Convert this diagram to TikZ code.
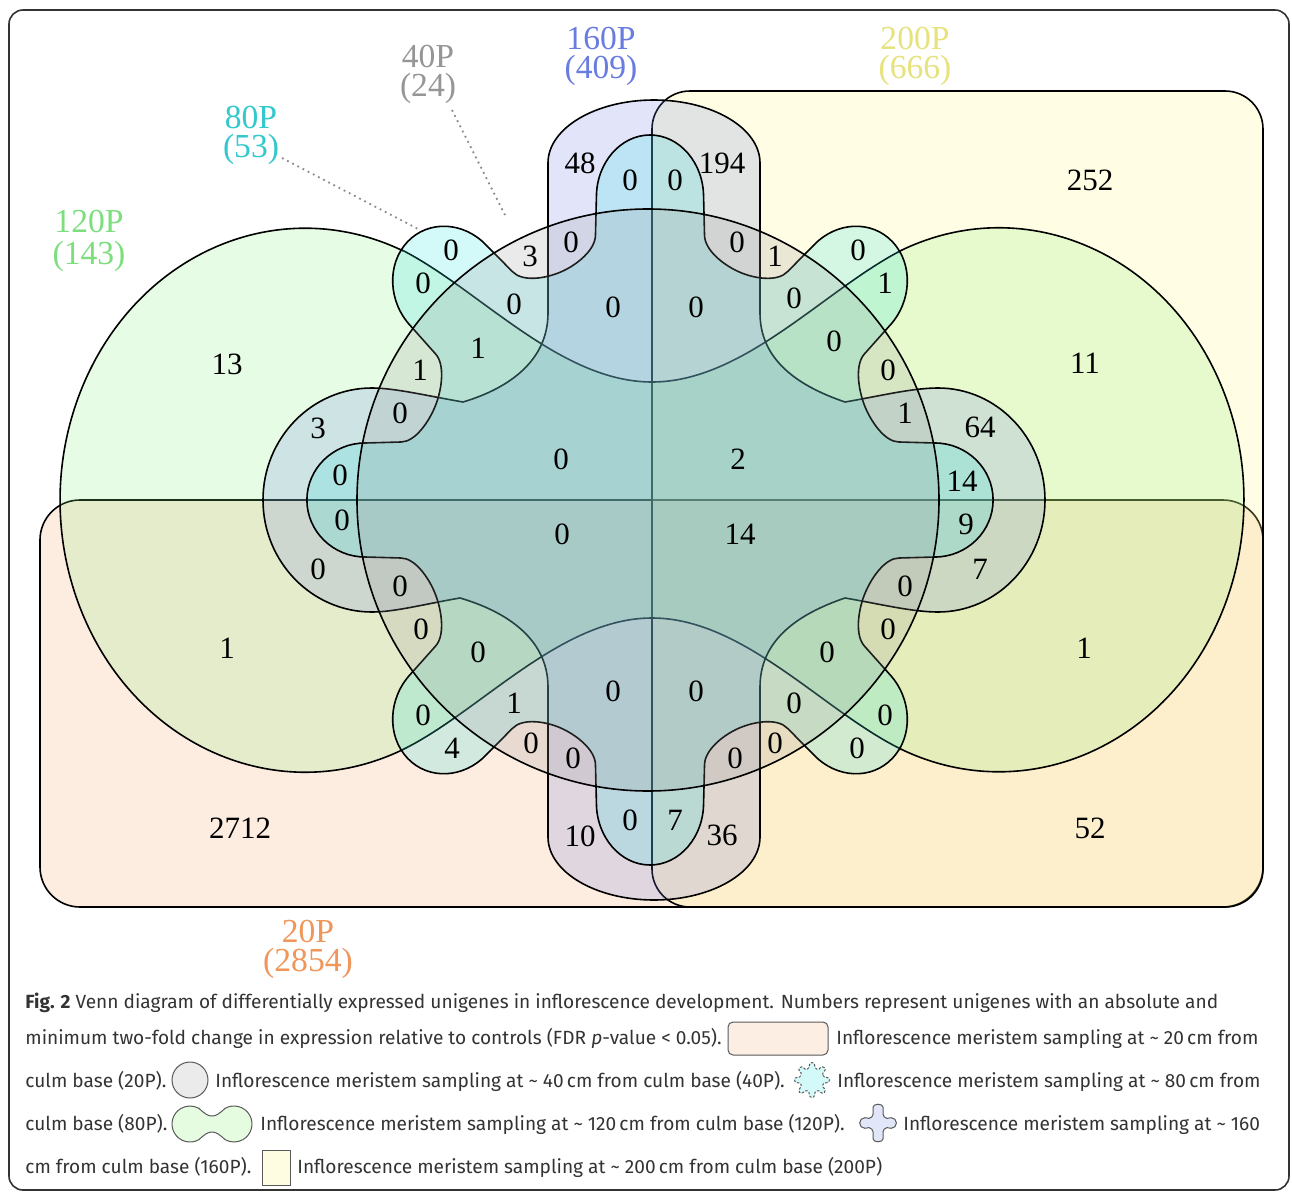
\documentclass[tikz,border=0pt]{standalone}
\usepackage{fontspec}
\setmainfont{Liberation Serif}
\newfontfamily\capfont{Fira Sans}
\definecolor{c20}{RGB}{245,160,100}
\definecolor{c200}{RGB}{255,246,135}
\definecolor{c120}{RGB}{135,240,120}
\definecolor{c160}{RGB}{110,128,226}
\definecolor{c80}{RGB}{40,225,225}
\definecolor{c40}{RGB}{150,150,150}
\definecolor{l20}{RGB}{240,150,90}
\definecolor{l200}{RGB}{230,226,125}
\definecolor{l40}{RGB}{150,150,150}
\definecolor{l80}{RGB}{50,200,205}
\definecolor{l120}{RGB}{125,222,125}
\definecolor{l160}{RGB}{105,125,225}
\tikzset{
  setline/.style={draw=black, line width=0.8pt},
  num/.style={font=\fontsize{15.5}{16}\selectfont, inner sep=0pt},
  setlab/.style={font=\fontsize{16.8}{14.6}\selectfont, inner sep=0pt, anchor=north, align=center},
  leader/.style={draw=black!45, dotted, line width=0.9pt},
  capt/.style={font=\capfont\fontsize{9.55}{11}\selectfont, anchor=base west, inner sep=0pt, text=black!80},
  icon/.style={draw=black!65, line width=0.5pt},
}
\def\gearpath{(228,-95)
 \foreach \a in {0,45,...,315} {
   .. controls ({235*cos(\a)+78*sin(\a)},{235*sin(\a)-78*cos(\a)}) and ({250*cos(\a)+58*sin(\a)},{250*sin(\a)-58*cos(\a)}) .. ({265*cos(\a)+58*sin(\a)},{265*sin(\a)-58*cos(\a)})
   -- ({303*cos(\a)+57*sin(\a)},{303*sin(\a)-57*cos(\a)})
   .. controls ({337*cos(\a)+57*sin(\a)},{337*sin(\a)-57*cos(\a)}) and ({365*cos(\a)+31.5*sin(\a)},{365*sin(\a)-31.5*cos(\a)}) .. ({365*cos(\a)},{365*sin(\a)})
   .. controls ({365*cos(\a)-31.5*sin(\a)},{365*sin(\a)+31.5*cos(\a)}) and ({337*cos(\a)-57*sin(\a)},{337*sin(\a)+57*cos(\a)}) .. ({303*cos(\a)-57*sin(\a)},{303*sin(\a)+57*cos(\a)})
   -- ({265*cos(\a)-58*sin(\a)},{265*sin(\a)+58*cos(\a)})
   .. controls ({250*cos(\a)-58*sin(\a)},{250*sin(\a)+58*cos(\a)}) and ({235*cos(\a)-78*sin(\a)},{235*sin(\a)+78*cos(\a)}) .. ({228*cos(\a)-95*sin(\a)},{228*sin(\a)+95*cos(\a)})
 } -- cycle}
\def\pluspath{(548,313) -- (548,163) arc[start angle=180,end angle=360,x radius=106,y radius=63]
 -- (760,313) .. controls (760,360) and (798,386) .. (845,402)
 .. controls (880,396) and (912,388) .. (938,388)
 arc[start angle=-90,end angle=90,x radius=107,y radius=112]
 .. controls (912,612) and (880,604) .. (845,598)
 .. controls (798,614) and (760,640) .. (760,687) -- (760,837)
 arc[start angle=0,end angle=180,x radius=106,y radius=63]
 -- (548,687) .. controls (548,640) and (508,612) .. (460,598)
 .. controls (425,604) and (395,612) .. (372,612)
 arc[start angle=90,end angle=270,x radius=109,y radius=112]
 .. controls (395,388) and (428,396) .. (463,402)
 .. controls (510,388) and (548,360) .. (548,313) -- cycle}
\begin{document}
\begin{tikzpicture}[x=0.5pt,y=-0.5pt]
\useasboundingbox (0,0) rectangle (1292,1194);
\fill[white] (0,0) rectangle (1292,1194);
\draw[draw=black!80, line width=0.8pt, rounded corners=7pt] (9,10) rectangle (1289,1190);

% 20P
\draw[setline, fill=c20, fill opacity=0.2, rounded corners=20pt] (40,500) rectangle (1263,907);
% 200P
\draw[setline, fill=c200, fill opacity=0.22, rounded corners=19pt] (652,91) rectangle (1263,907);
% 120P dumbbell
\draw[setline, fill=c120, fill opacity=0.2]
  (402,250) .. controls (480,290) and (560,382) .. (652,382)
  .. controls (744,382) and (824,290) .. (902,250)
  arc[start angle=246.7,end angle=473.3,x radius=245,y radius=272]
  .. controls (824,712) and (744,618) .. (652,618)
  .. controls (560,618) and (480,712) .. (402,750)
  arc[start angle=66.7,end angle=293.3,x radius=245,y radius=272] -- cycle;
% 160P plus
\draw[setline, fill=c160, fill opacity=0.2] \pluspath;
% 80P gear
\begin{scope}[shift={(650,500)}, xscale=0.94]
\draw[setline, fill=c80, fill opacity=0.2] \gearpath;
\end{scope}
% 40P circle
\draw[setline, fill=c40, fill opacity=0.2] (648,500) circle[radius=291];

% region counts
\foreach \px/\py/\t [count=\i] in {
580/163/48, 630/180/0, 675/180/0, 722/163/194, 1090/180/252,
451/250/0, 530/256/3, 571/242/0, 737/242/0, 775/256/1, 858/250/0,
423/283/0, 885/283/1,
514/304/0, 613/307/0, 696/307/0, 794/298/0,
227/364/13, 1085/363/11,
478/348/1, 834/341/0,
420/370/1, 888/370/0,
400/413/0, 905/413/1,
318/428/3, 980/427/64,
561/459/0, 738/459/2,
340/475/0, 962/481/14,
342/520/0, 966/524/9,
562/534/0, 740/534/14,
318/569/0, 980/569/7,
400/586/0, 905/586/0,
421/629/0, 888/629/0,
227/648/1, 1084/648/1,
478/652/0, 827/652/0,
613/691/0, 696/691/0,
514/703/1, 794/703/0,
423/715/0, 885/715/0,
452/748/4, 531/743/0, 573/758/0, 735/758/0, 775/743/0, 857/748/0,
630/820/0, 675/820/7,
580/836/10, 722/835/36,
240/828/2712, 1090/828/52}
{ \node[num] (n\i) at (\px,\py) {\t}; }

% set labels
\node[setlab, text=l160] (lab160) at (601,27) {160P\\(409)};
\node[setlab, text=l200] (lab200) at (915,27) {200P\\(666)};
\node[setlab, text=l40] (lab40) at (428,45) {40P\\(24)};
\node[setlab, text=l80] (lab80) at (251,106) {80P\\(53)};
\node[setlab, text=l120, font=\fontsize{16.8}{16}\selectfont] (lab120) at (89,210) {120P\\(143)};
\node[setlab, text=l20] (lab20) at (308,920) {20P\\(2854)};

\coordinate (l40s) at (452,110);
\coordinate (l40e) at (505,215);
\coordinate (l80s) at (282,158);
\coordinate (l80e) at (420,230);
\draw[leader] (l40s) -- (l40e);
\draw[leader] (l80s) -- (l80e);

% caption
\node[capt] (cap1) at (25,1008) {\textbf{Fig. 2} Venn diagram of differentially expressed unigenes in inflorescence development. Numbers represent unigenes with an absolute and};
\node[capt] (cap2a) at (25,1044) {minimum two-fold change in expression relative to controls (FDR \textit{p}-value < 0.05).};
\node[capt] (cap2b) at (836,1044) {Inflorescence meristem sampling at \textasciitilde\ 20\,cm from};
\node[capt] (cap3a) at (25,1087) {culm base (20P).};
\node[capt] (cap3b) at (215,1087) {Inflorescence meristem sampling at \textasciitilde\ 40\,cm from culm base (40P).};
\node[capt] (cap3c) at (837,1087) {Inflorescence meristem sampling at \textasciitilde\ 80\,cm from};
\node[capt] (cap4a) at (25,1130) {culm base (80P).};
\node[capt] (cap4b) at (260,1130) {Inflorescence meristem sampling at \textasciitilde\ 120\,cm from culm base (120P).};
\node[capt] (cap4c) at (903,1130) {Inflorescence meristem sampling at \textasciitilde\ 160};
\node[capt] (cap5a) at (25,1173) {cm from culm base (160P).};
\node[capt] (cap5b) at (297,1173) {Inflorescence meristem sampling at \textasciitilde\ 200\,cm from culm base (200P)};

% legend icons
\draw[icon, fill=c20!18, rounded corners=2.5pt] (728,1022) rectangle (828,1055);
\draw[icon, fill=black!8] (190,1080) circle[radius=18];
\begin{scope}[shift={(812,1080)}, scale=0.048]
\draw[icon, dashed, dash pattern=on 1.2pt off 0.8pt, fill=c80!20] \gearpath;
\end{scope}
\draw[icon, fill=c120!22]
  (199,1108.4) .. controls (205,1114) and (208,1116) .. (212,1116)
  .. controls (216,1116) and (219,1114) .. (225,1108.4)
  arc[start angle=240,end angle=480,radius=18]
  .. controls (219,1134) and (216,1132) .. (212,1132)
  .. controls (208,1132) and (205,1134) .. (199,1139.6)
  arc[start angle=60,end angle=300,radius=18] -- cycle;
\begin{scope}[shift={(847.3,1099.5)}, scale=0.047]
\draw[icon, fill=c160!20] \pluspath;
\end{scope}
\draw[icon, fill=c200!25] (262,1150) rectangle (290,1185);
\end{tikzpicture}
\end{document}
